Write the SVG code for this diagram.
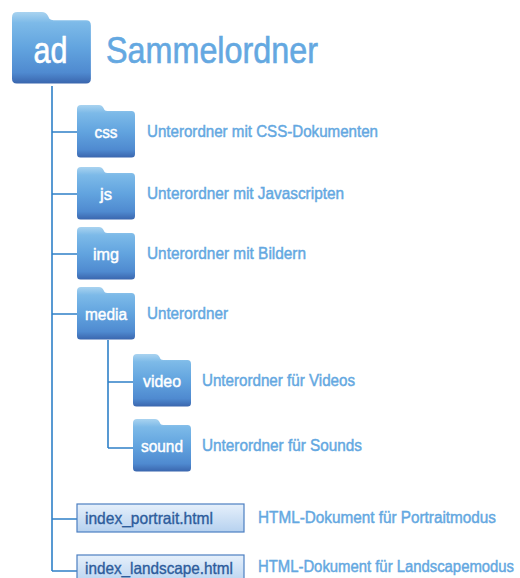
<svg xmlns="http://www.w3.org/2000/svg" width="520" height="578" viewBox="0 0 520 578">
<defs>
<linearGradient id="fg" x1="0" y1="0" x2="0" y2="1">
<stop offset="0" stop-color="#a9d3f0"/>
<stop offset="0.15" stop-color="#7dbae8"/>
<stop offset="0.5" stop-color="#62a4df"/>
<stop offset="0.85" stop-color="#4f8ad0"/>
<stop offset="1" stop-color="#3a66ae"/>
</linearGradient>
<linearGradient id="bg" x1="0" y1="0" x2="0" y2="1">
<stop offset="0" stop-color="#e6f0fb"/>
<stop offset="1" stop-color="#b6d1ef"/>
</linearGradient>
<path id="folder" d="M0,4 Q0,0 4,0 L22,0 Q25,0 26.5,3 L27.5,5 Q28.5,6 30.5,6 L54.5,6 Q58,6 58,10 L58,49 Q58,52.5 54.5,52.5 L3.5,52.5 Q0,52.5 0,49 Z" fill="url(#fg)"/>
</defs>
<style>
.ft{font-family:"Liberation Sans Narrow","Liberation Sans",Arial,sans-serif;font-size:16px;fill:#fff;stroke:#fff;stroke-width:0.45;text-anchor:middle}
.lb{font-family:"Liberation Sans Narrow","Liberation Sans",Arial,sans-serif;font-size:16px;fill:#64a8e1;stroke:#64a8e1;stroke-width:0.45}
.big{font-size:36px;stroke-width:0.6}
.hf{font-family:"Liberation Sans Narrow","Liberation Sans",Arial,sans-serif;font-size:16.5px;fill:#2d5c9c;stroke:#2d5c9c;stroke-width:0.35}
.ln{stroke:#2f80c8;stroke-width:1.6;fill:none}
.box{fill:url(#bg);stroke:#4c7fc1;stroke-width:1.2}
</style>
<g id="connectors">
<path class="ln" d="M52,86 V571 M52,132 H77 M52,194 H77 M52,254 H77 M52,314 H77 M52,519 H77 M52,571 H77"/>
<path class="ln" d="M108,340 V448 M108,382 H133 M108,448 H133"/>
</g>
<g id="root">
<use href="#folder" transform="translate(12,12) scale(1.36)"/>
<text class="ft big" x="50.5" y="63" textLength="34" lengthAdjust="spacingAndGlyphs">ad</text>
<text class="lb big" x="106" y="62.5" textLength="212" lengthAdjust="spacingAndGlyphs">Sammelordner</text>
</g>
<g id="css">
<use href="#folder" x="77" y="105"/>
<text class="ft" x="106" y="138" textLength="23" lengthAdjust="spacingAndGlyphs">css</text>
<text class="lb" x="147" y="137" textLength="231" lengthAdjust="spacingAndGlyphs">Unterordner mit CSS-Dokumenten</text>
</g>
<g id="js">
<use href="#folder" x="77" y="167"/>
<text class="ft" x="106" y="200" textLength="12" lengthAdjust="spacingAndGlyphs">js</text>
<text class="lb" x="147" y="199" textLength="197" lengthAdjust="spacingAndGlyphs">Unterordner mit Javascripten</text>
</g>
<g id="img">
<use href="#folder" x="77" y="227"/>
<text class="ft" x="106" y="260" textLength="26" lengthAdjust="spacingAndGlyphs">img</text>
<text class="lb" x="147" y="259" textLength="159" lengthAdjust="spacingAndGlyphs">Unterordner mit Bildern</text>
</g>
<g id="media">
<use href="#folder" x="77" y="287"/>
<text class="ft" x="106" y="320" textLength="42" lengthAdjust="spacingAndGlyphs">media</text>
<text class="lb" x="147" y="319" textLength="81" lengthAdjust="spacingAndGlyphs">Unterordner</text>
</g>
<g id="video">
<use href="#folder" x="133" y="354"/>
<text class="ft" x="162" y="387" textLength="38" lengthAdjust="spacingAndGlyphs">video</text>
<text class="lb" x="202" y="386" textLength="153" lengthAdjust="spacingAndGlyphs">Unterordner für Videos</text>
</g>
<g id="sound">
<use href="#folder" x="133" y="419"/>
<text class="ft" x="162" y="452" textLength="42" lengthAdjust="spacingAndGlyphs">sound</text>
<text class="lb" x="202" y="451" textLength="160" lengthAdjust="spacingAndGlyphs">Unterordner für Sounds</text>
</g>
<g id="index_portrait">
<rect class="box" x="77" y="504" width="167" height="28"/>
<text class="hf" x="85" y="524" textLength="128" lengthAdjust="spacingAndGlyphs">index_portrait.html</text>
<text class="lb" x="258" y="523" textLength="238" lengthAdjust="spacingAndGlyphs">HTML-Dokument für Portraitmodus</text>
</g>
<g id="index_landscape">
<rect class="box" x="77" y="555" width="167" height="30"/>
<text class="hf" x="85" y="573.5" textLength="148" lengthAdjust="spacingAndGlyphs">index_landscape.html</text>
<text class="lb" x="258" y="572" textLength="256" lengthAdjust="spacingAndGlyphs">HTML-Dokument für Landscapemodus</text>
</g>
</svg>
